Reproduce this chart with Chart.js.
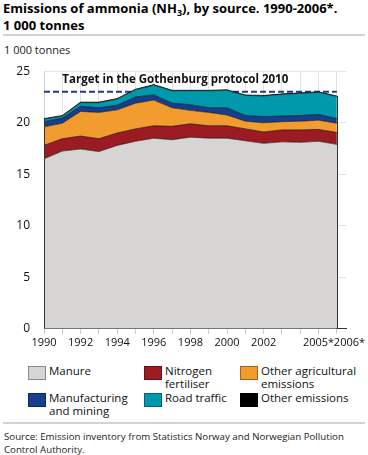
<!DOCTYPE html>
<html>
<head>
<meta charset="utf-8">
<script src="https://cdn.jsdelivr.net/npm/chart.js@4.4.1/dist/chart.umd.min.js"></script>
<style>
  body { margin: 0; width: 368px; height: 455px; background: #fff; position: relative; overflow: hidden;
         font-family: 'Open Sans', sans-serif; color: #000; }
  .title { position: absolute; left: 3px; top: 0; font-weight: bold; font-size: 13px; line-height: 17px; }
  .title sub { font-size: 9px; vertical-align: -3px; line-height: 0; }
  .rule { position: absolute; left: 3px; width: 362px; height: 2px; background: #d3d3d3; }
  .unit { position: absolute; left: 4px; top: 42px; font-size: 11px; color: #222; }
  #wrap { position: absolute; left: 0; top: 50px; width: 368px; height: 305px; }
  .leg { position: absolute; font-size: 11.5px; line-height: 13px; color: #111; }
  .leg i { position: absolute; left: 0; top: 2px; width: 16px; height: 12px; border: 1px solid rgba(0,0,0,0.35); }
  .leg span { position: absolute; left: 21px; top: 0; white-space: nowrap; }
  .source { position: absolute; left: 4px; top: 430px; font-size: 9.7px; line-height: 13px; color: #222; white-space: nowrap; }
</style>
</head>
<body>
<div class="title">Emissions of ammonia (NH<sub>3</sub>), by source. 1990-2006*.<br>1 000 tonnes</div>
<div class="rule" style="top:34px"></div>
<div class="unit">1 000 tonnes</div>
<div id="wrap"><canvas id="chart"></canvas></div>
<div id="legend"></div>
<div class="rule" style="top:422px"></div>
<div class="source">Source: Emission inventory from Statistics Norway and Norwegian Pollution<br>Control Authority.</div>

<script>
const years = [1990, 1991, 1992, 1993, 1994, 1995, 1996, 1997, 1998, 1999, 2000, 2001, 2002, 2003, 2004, 2005, 2006];
const yearLabels = ['1990', '', '1992', '', '1994', '', '1996', '', '1998', '', '2000', '', '2002', '', '', '2005*', '2006*'];

// 1 000 tonnes, stacked from the bottom
const manure        = [16.5, 17.25, 17.45, 17.2, 17.8, 18.2, 18.5, 18.35, 18.6, 18.5, 18.5, 18.25, 18.0, 18.15, 18.1, 18.2, 17.9];
const nitrogen      = [1.3, 1.2, 1.25, 1.25, 1.2, 1.2, 1.2, 1.3, 1.3, 1.2, 1.2, 1.15, 1.1, 1.15, 1.2, 1.15, 1.15];
const otherAgri     = [1.8, 1.5, 2.4, 2.55, 2.25, 2.5, 2.5, 1.8, 1.3, 1.3, 1.05, 0.75, 0.9, 0.8, 0.85, 0.9, 0.9];
const manufacturing = [0.5, 0.5, 0.5, 0.45, 0.45, 0.6, 0.5, 0.45, 0.55, 0.45, 0.7, 0.55, 0.6, 0.55, 0.55, 0.55, 0.45];
const roadTraffic   = [0.25, 0.2, 0.35, 0.5, 0.6, 0.7, 0.95, 1.2, 1.35, 1.65, 1.7, 1.95, 2.0, 2.1, 2.15, 2.15, 2.15];
const otherEmis     = [0.05, 0.05, 0.05, 0.05, 0.05, 0.05, 0.05, 0.05, 0.05, 0.05, 0.05, 0.05, 0.05, 0.05, 0.05, 0.05, 0.05];
const targetLevel = 23;

const series = [
    { name: 'Manure', data: manure, color: '#d6d5d3' },
    { name: 'Nitrogen\nfertiliser', data: nitrogen, color: '#9c1a21' },
    { name: 'Other agricultural\nemissions', data: otherAgri, color: '#f29b2f' },
    { name: 'Manufacturing\nand mining', data: manufacturing, color: '#133f8e' },
    { name: 'Road traffic', data: roadTraffic, color: '#0099ab' },
    { name: 'Other emissions', data: otherEmis, color: '#000000' }
];

// legend, three columns
const legendPos = [[28, 364], [144, 364], [240, 364], [28, 391], [144, 391], [240, 391]];
const legend = document.getElementById('legend');
series.forEach((s, i) => {
    const el = document.createElement('div');
    el.className = 'leg';
    el.style.left = legendPos[i][0] + 'px';
    el.style.top = legendPos[i][1] + 'px';
    el.innerHTML = '<i style="background:' + s.color + '"></i><span>' + s.name.replace('\n', '<br>') + '</span>';
    legend.appendChild(el);
});

const datasets = series.map((s, i) => ({
    label: s.name,
    data: s.data,
    backgroundColor: s.color,
    borderColor: 'rgba(20,20,20,0.85)',
    borderWidth: 0.8,
    fill: i === 0 ? 'origin' : '-1',
    pointRadius: 0,
    tension: 0,
    stack: 'sources'
}));
datasets.push({
    label: 'Target',
    data: years.map(() => targetLevel),
    borderColor: '#1d3d8c',
    borderWidth: 2,
    borderDash: [6, 3],
    fill: false,
    pointRadius: 0,
    stack: 'target'
});

const last = years.length - 1;

// dark vertical edges at first and last year, the target caption, the last year label
const extras = {
    id: 'extras',
    afterDatasetsDraw(chart) {
        const { ctx, scales: { x, y } } = chart;
        const top = i => series.reduce((sum, s) => sum + s.data[i], 0);
        ctx.save();
        ctx.strokeStyle = '#333';
        ctx.lineWidth = 1;
        [0, last].forEach(i => {
            const px = Math.round(x.getPixelForValue(years[i])) + 0.5;
            ctx.beginPath();
            ctx.moveTo(px, y.getPixelForValue(0));
            ctx.lineTo(px, y.getPixelForValue(top(i)));
            ctx.stroke();
        });
        ctx.fillStyle = '#111';
        ctx.font = 'bold 11.5px "Open Sans"';
        ctx.textBaseline = 'middle';
        ctx.fillText('Target in the Gothenburg protocol 2010', x.getPixelForValue(years[1]), y.getPixelForValue(targetLevel) - 12);
        // the last label sits just right of "2005*" instead of centred on its tick
        ctx.font = '11px "Open Sans"';
        ctx.textAlign = 'left';
        ctx.textBaseline = 'middle';
        ctx.fillText(yearLabels[last], x.getPixelForValue(years[last]) - 3, y.bottom + 14);
        ctx.restore();
    }
};

new Chart(document.getElementById('chart'), {
    type: 'line',
    data: { labels: years, datasets: datasets },
    options: {
        responsive: true,
        maintainAspectRatio: false,
        animation: false,
        layout: { padding: { left: 0, right: 22, top: 15, bottom: 4 } },
        plugins: { legend: { display: false }, tooltip: { enabled: false } },
        scales: {
            x: {
                type: 'linear',
                min: years[0],
                max: 2006.5,
                grid: { color: '#e2e2e2', tickColor: '#c8c8c8', tickLength: 5 },
                border: { color: '#333' },
                ticks: {
                    stepSize: 1,
                    includeBounds: false,
                    autoSkip: false,
                    maxRotation: 0,
                    padding: 2,
                    color: '#111',
                    font: { family: 'Open Sans', size: 11 },
                    callback: v => (v === years[last] ? '' : yearLabels[years.indexOf(v)] || '')
                }
            },
            y: {
                stacked: true,
                min: 0,
                max: 25,
                afterFit: scale => { scale.width = 44; },
                grid: { color: '#e2e2e2', drawTicks: false },
                border: { color: '#d0d0d0' },
                ticks: { stepSize: 5, padding: 14, color: '#111', font: { family: 'Open Sans', size: 12 } }
            }
        }
    },
    plugins: [extras]
});
</script>
</body>
</html>
